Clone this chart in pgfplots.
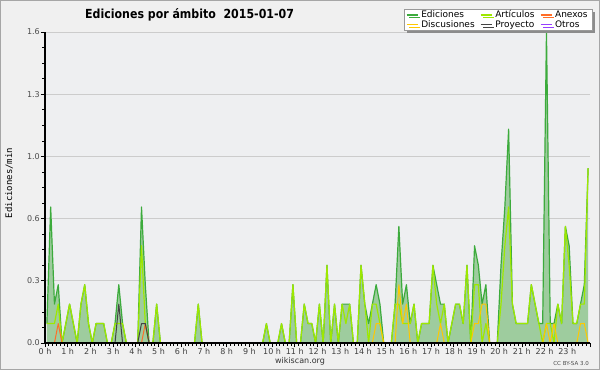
\documentclass[border=0pt]{standalone}
\usepackage{fontspec}
\setmainfont{DejaVu Sans}
\newfontfamily\titlefont{DejaVu Sans}[FakeStretch=0.88]
\newfontfamily\monofont{DejaVu Sans Mono}
\usepackage{pgfplots}
\usepackage{pgfplotstable}
\pgfplotsset{compat=1.18}
\usetikzlibrary{shadows}
\definecolor{outerbg}{HTML}{F0F0F0}
\definecolor{plotbg}{HTML}{EEEFF1}
\definecolor{edfill}{HTML}{9ECC9E}
\definecolor{edline}{HTML}{3CAB3C}
\definecolor{artline}{HTML}{9EE800}
\definecolor{anxline}{HTML}{FF6E28}
\definecolor{discline}{HTML}{FFC800}
\definecolor{proyline}{HTML}{444444}
\definecolor{otrosline}{HTML}{9640FF}
\definecolor{gridc}{HTML}{CCCCCC}

\pgfplotstableread{
k ed art anx disc proy
0 0.1 0.1 0 0 0
1 0.7 0.1 0 0 0
2 0.2 0.1 0 0 0
3 0.3 0.2 0.1 0 0
4 0 0 0 0 0
5 0.1 0.1 0 0 0
6 0.2 0.2 0 0 0
7 0.1 0.1 0 0 0
8 0 0 0 0 0
9 0.2 0.2 0 0 0
10 0.3 0.3 0 0 0
11 0.1 0.1 0 0 0
12 0 0 0 0 0
13 0.1 0.1 0 0 0
14 0.1 0.1 0 0 0
15 0.1 0.1 0 0 0
16 0 0 0 0 0
17 0 0 0 0 0
18 0.1 0.1 0 0 0
19 0.3 0.1 0 0 0.2
20 0.1 0.1 0 0 0
21 0 0 0 0 0
22 0 0 0 0 0
23 0 0 0 0 0
24 0 0 0 0 0
25 0.7 0.5 0 0 0.1
26 0.3 0.1 0.1 0 0.1
27 0 0 0 0 0
28 0 0 0 0 0
29 0.2 0.2 0 0 0
30 0 0 0 0 0
31 0 0 0 0 0
32 0 0 0 0 0
33 0 0 0 0 0
34 0 0 0 0 0
35 0 0 0 0 0
36 0 0 0 0 0
37 0 0 0 0 0
38 0 0 0 0 0
39 0 0 0 0 0
40 0.2 0.2 0 0 0
41 0 0 0 0 0
42 0 0 0 0 0
43 0 0 0 0 0
44 0 0 0 0 0
45 0 0 0 0 0
46 0 0 0 0 0
47 0 0 0 0 0
48 0 0 0 0 0
49 0 0 0 0 0
50 0 0 0 0 0
51 0 0 0 0 0
52 0 0 0 0 0
53 0 0 0 0 0
54 0 0 0 0 0
55 0 0 0 0 0
56 0 0 0 0 0
57 0 0 0 0 0
58 0.1 0.1 0 0 0
59 0 0 0 0 0
60 0 0 0 0 0
61 0 0 0 0 0
62 0.1 0.1 0 0 0
63 0 0 0 0 0
64 0 0 0 0 0
65 0.3 0.3 0 0 0
66 0 0 0 0 0
67 0 0 0 0 0
68 0.2 0.2 0 0 0
69 0.1 0.1 0 0 0
70 0.1 0.1 0 0 0
71 0 0 0 0 0
72 0.2 0.2 0 0 0
73 0 0 0 0 0
74 0.4 0.4 0 0 0
75 0 0 0 0 0
76 0.2 0.2 0 0 0
77 0 0 0 0 0
78 0.2 0.2 0 0 0
79 0.2 0.1 0 0 0
80 0.2 0.2 0 0 0
81 0 0 0 0 0
82 0 0 0 0 0
83 0.4 0.4 0 0 0
84 0.2 0.2 0 0 0
85 0.1 0 0 0 0
86 0.2 0.2 0 0 0
87 0.3 0.2 0 0.1 0
88 0.2 0.1 0 0.1 0
89 0 0 0 0 0
90 0 0 0 0 0
91 0 0 0 0 0
92 0.2 0.2 0 0 0
93 0.6 0.2 0 0.3 0
94 0.2 0.1 0 0.1 0
95 0.3 0.1 0 0.2 0
96 0.1 0.1 0 0 0
97 0.2 0.2 0 0 0
98 0 0 0 0 0
99 0.1 0.1 0 0 0
100 0.1 0.1 0 0 0
101 0.1 0.1 0 0 0
102 0.4 0.4 0 0 0
103 0.3 0.2 0 0 0
104 0.2 0.1 0 0.1 0
105 0.2 0.2 0 0 0
106 0 0 0 0 0
107 0.1 0.1 0 0 0
108 0.2 0.2 0 0 0
109 0.2 0.2 0 0 0
110 0.1 0.1 0 0 0
111 0.4 0.4 0 0 0
112 0 0 0 0 0
113 0.5 0.3 0 0.1 0
114 0.4 0.3 0 0.1 0
115 0.2 0 0 0.2 0
116 0.3 0.1 0 0.2 0
117 0 0 0 0 0
118 0 0 0 0 0
119 0 0 0 0 0
120 0.4 0.2 0 0 0
121 0.7 0.5 0 0 0
122 1.1 0.7 0 0 0
123 0.2 0.2 0 0 0
124 0.1 0.1 0 0 0
125 0.1 0.1 0 0 0
126 0.1 0.1 0 0 0
127 0.1 0.1 0 0 0
128 0.3 0.3 0 0 0
129 0.2 0.2 0 0 0
130 0.1 0.1 0 0 0
131 0.1 0 0 0 0
132 1.6 0.1 0 0.1 0
133 0.1 0.1 0 0 0
134 0.1 0 0 0.1 0
135 0.2 0.2 0 0 0
136 0.1 0.1 0 0 0
137 0.6 0.6 0 0 0
138 0.5 0.4 0 0 0
139 0.1 0.1 0 0 0
140 0.1 0.1 0 0 0
141 0.2 0.2 0 0.1 0
142 0.3 0.2 0 0.1 0
143 0.9 0.9 0 0 0
}\datatable

\begin{document}
\begin{tikzpicture}
\useasboundingbox (-45pt,-27pt) rectangle (555pt,343pt);
\fill[outerbg] (-45pt,-27pt) rectangle (555pt,343pt);
\draw[black!35, line width=1pt] (-44.5pt,-26.5pt) rectangle (554.5pt,342.5pt);
\begin{axis}[
  at={(0pt,0pt)}, anchor=south west,
  scale only axis, width=545pt, height=311pt,
  xmin=0, xmax=24, ymin=0, ymax=1.6,
  axis background/.style={fill=plotbg},
  axis x line*=bottom, axis y line*=left,
  axis line style={black, line width=1.2pt},
  xtick={0,...,24},
  xticklabels={0 h,1 h,2 h,3 h,4 h,5 h,6 h,7 h,8 h,9 h,10 h,11 h,12 h,13 h,14 h,15 h,16 h,17 h,18 h,19 h,20 h,21 h,22 h,23 h,},
  minor x tick num=5,
  ytick={0,0.32,0.64,0.96,1.28,1.6},
  yticklabels={0.0,0.3,0.6,1.0,1.3,1.6},
  minor y tick num=3,
  tick align=outside,
  major tick length=4pt, minor tick length=2.5pt,
  tick style={black, line width=0.7pt},
  ymajorgrids, major grid style={gridc, line width=0.8pt},
  xticklabel style={font=\fontsize{8}{9}\selectfont, text=black!75, inner ysep=1.5pt},
  yticklabel style={font=\fontsize{8}{9}\selectfont, text=black!70, inner xsep=1pt},
  legend columns=3,
  legend style={at={(axis description cs:0.6587,1.074)}, anchor=north west,
    draw=black!40, fill=white, font=\fontsize{9}{10}\selectfont,
    inner xsep=2pt, inner ysep=1pt,
    nodes={inner ysep=0.5pt, inner xsep=3pt, text height=6.8pt, text depth=1.8pt},
    cells={anchor=west},
    drop shadow={shadow xshift=2.5pt, shadow yshift=-2.5pt, fill=black!45, opacity=1}},
  /tikz/every even column/.append style={column sep=2.5pt},
  legend image code/.code={\draw[#1, line width=1.1pt] (0pt,0pt) -- (11pt,0pt);},
]
\addplot[draw=none, fill=edfill, forget plot] table[x expr=(\thisrow{k}+0.5)/6, y=ed] {\datatable} \closedcycle;
\addplot[edline, line width=1.2pt, line join=round] table[x expr=(\thisrow{k}+0.5)/6, y=ed] {\datatable};
\addlegendentry{Ediciones}
\addplot[artline, line width=1.2pt, line join=round] table[x expr=(\thisrow{k}+0.5)/6, y=art] {\datatable};
\addlegendentry{Artículos}
\addplot[anxline, line width=1pt, line join=round] table[x expr=(\thisrow{k}+0.5)/6, y=anx] {\datatable};
\addlegendentry{Anexos}
\addplot[discline, line width=1pt, line join=round] table[x expr=(\thisrow{k}+0.5)/6, y=disc] {\datatable};
\addlegendentry{Discusiones}
\addplot[proyline, line width=1pt, line join=round] table[x expr=(\thisrow{k}+0.5)/6, y=proy] {\datatable};
\addlegendentry{Proyecto}
\addlegendimage{otrosline, line width=1pt}
\addlegendentry{Otros}
\draw[black, line width=1.5pt] (axis cs:0,0) -- (axis cs:24,0);
\end{axis}
\node[anchor=base west, inner sep=0pt] at (40pt,324.7pt) {\titlefont\bfseries\fontsize{12.5}{14}\selectfont Ediciones por ámbito\ \ 2015-01-07};
\node[rotate=90, inner sep=0pt] at (-36pt,160pt) {\monofont\fontsize{9}{10}\selectfont Ediciones/min};
\node[inner sep=0pt, text=black!80] at (255pt,-18pt) {\fontsize{8}{9}\selectfont wikiscan.org};
\node[anchor=east, inner sep=0pt, text=black!70] at (544pt,-20pt) {\fontsize{5.5}{6}\selectfont CC BY-SA 3.0};
\end{tikzpicture}
\end{document}
